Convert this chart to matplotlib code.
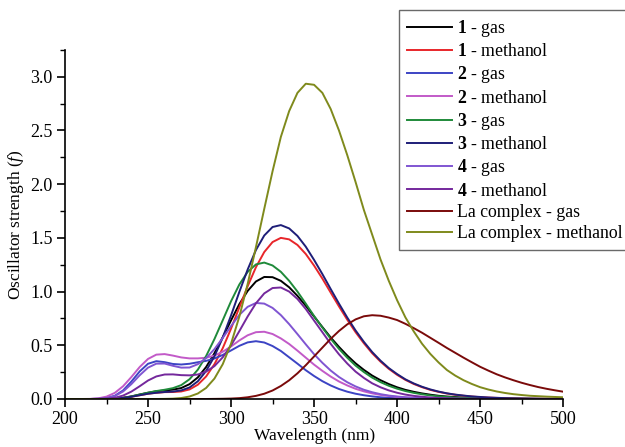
import matplotlib
matplotlib.use("Agg")
import matplotlib.pyplot as plt
from matplotlib.ticker import MultipleLocator

plt.rcParams['font.family'] = ['Liberation Serif', 'DejaVu Serif']
plt.rcParams['mathtext.fontset'] = 'custom'
plt.rcParams['mathtext.rm'] = 'Liberation Serif'
plt.rcParams['mathtext.it'] = 'Liberation Serif:italic'
plt.rcParams['mathtext.bf'] = 'Liberation Serif:bold'

# wavelength grid, 200..500 nm every 5 nm
wavelength = [200, 205, 210, 215, 220, 225, 230, 235, 240, 245,
              250, 255, 260, 265, 270, 275, 280, 285, 290, 295,
              300, 305, 310, 315, 320, 325, 330, 335, 340, 345,
              350, 355, 360, 365, 370, 375, 380, 385, 390, 395,
              400, 405, 410, 415, 420, 425, 430, 435, 440, 445,
              450, 455, 460, 465, 470, 475, 480, 485, 490, 495, 500]

gas_1 = [0, 0, 0, 0, 0, 0.001, 0.004, 0.011, 0.024, 0.042,
         0.058, 0.072, 0.079, 0.087, 0.102, 0.138, 0.201, 0.298, 0.426, 0.575,
         0.732, 0.883, 1.006, 1.094, 1.136, 1.134, 1.10, 1.04, 0.96, 0.868,
         0.768, 0.670, 0.573, 0.485, 0.404, 0.332, 0.271, 0.218, 0.175, 0.139,
         0.109, 0.085, 0.067, 0.052, 0.040, 0.030, 0.023, 0.018, 0.013, 0.010,
         0.008, 0.006, 0.004, 0.003, 0.003, 0.002, 0.001, 0.001, 0, 0, 0]
meoh_1 = [0, 0, 0, 0, 0, 0.001, 0.004, 0.010, 0.021, 0.035,
          0.049, 0.058, 0.064, 0.065, 0.070, 0.089, 0.133, 0.210, 0.324, 0.473,
          0.655, 0.853, 1.049, 1.227, 1.368, 1.461, 1.50, 1.486, 1.434, 1.35,
          1.242, 1.121, 0.991, 0.862, 0.738, 0.622, 0.519, 0.426, 0.348, 0.281,
          0.225, 0.178, 0.14, 0.11, 0.085, 0.066, 0.051, 0.039, 0.03, 0.023,
          0.017, 0.013, 0.01, 0.008, 0.006, 0.004, 0.003, 0.002, 0.002, 0.001, 0.001]
gas_2 = [0, 0, 0, 0, 0.002, 0.008, 0.03, 0.08, 0.163, 0.257,
         0.328, 0.352, 0.343, 0.326, 0.321, 0.328, 0.342, 0.355, 0.377, 0.41,
         0.452, 0.495, 0.527, 0.538, 0.526, 0.493, 0.447, 0.388, 0.329, 0.268,
         0.214, 0.166, 0.126, 0.093, 0.068, 0.049, 0.035, 0.024, 0.016, 0.011,
         0.008, 0.005, 0.003, 0.002, 0.001, 0.001, 0, 0, 0, 0,
         0, 0, 0, 0, 0, 0, 0, 0, 0, 0, 0]
meoh_2 = [0, 0, 0, 0.001, 0.006, 0.022, 0.057, 0.119, 0.205, 0.298,
          0.373, 0.413, 0.418, 0.404, 0.387, 0.378, 0.378, 0.384, 0.404, 0.44,
          0.489, 0.545, 0.593, 0.622, 0.626, 0.605, 0.564, 0.512, 0.45, 0.385,
          0.32, 0.262, 0.209, 0.163, 0.126, 0.095, 0.071, 0.052, 0.038, 0.028,
          0.02, 0.014, 0.01, 0.007, 0.005, 0.003, 0.002, 0.002, 0.001, 0.001,
          0, 0, 0, 0, 0, 0, 0, 0, 0, 0, 0]
gas_3 = [0, 0, 0, 0, 0, 0.001, 0.004, 0.011, 0.024, 0.041,
         0.059, 0.074, 0.086, 0.101, 0.129, 0.184, 0.273, 0.40, 0.558, 0.733,
         0.91, 1.066, 1.183, 1.253, 1.27, 1.243, 1.184, 1.10, 1.0, 0.888,
         0.773, 0.665, 0.561, 0.467, 0.384, 0.311, 0.251, 0.199, 0.157, 0.123,
         0.096, 0.074, 0.057, 0.044, 0.033, 0.025, 0.019, 0.014, 0.011, 0.008,
         0.006, 0.004, 0.003, 0.002, 0.002, 0.001, 0.001, 0, 0, 0, 0]
meoh_3 = [0, 0, 0, 0, 0, 0.001, 0.004, 0.010, 0.021, 0.035,
          0.049, 0.058, 0.065, 0.069, 0.080, 0.107, 0.165, 0.261, 0.397, 0.572,
          0.778, 0.997, 1.205, 1.387, 1.522, 1.601, 1.619, 1.588, 1.518, 1.418,
          1.295, 1.163, 1.024, 0.888, 0.758, 0.638, 0.532, 0.437, 0.357, 0.288,
          0.232, 0.183, 0.145, 0.114, 0.089, 0.069, 0.053, 0.041, 0.032, 0.024,
          0.019, 0.014, 0.011, 0.008, 0.006, 0.005, 0.004, 0.003, 0.002, 0.002, 0.001]
gas_4 = [0, 0, 0, 0, 0.002, 0.008, 0.028, 0.070, 0.139, 0.221,
         0.292, 0.329, 0.33, 0.309, 0.292, 0.293, 0.324, 0.381, 0.464, 0.568,
         0.679, 0.783, 0.858, 0.894, 0.888, 0.848, 0.781, 0.697, 0.604, 0.509,
         0.417, 0.337, 0.265, 0.205, 0.156, 0.117, 0.086, 0.063, 0.045, 0.032,
         0.023, 0.016, 0.011, 0.008, 0.005, 0.004, 0.002, 0.002, 0.001, 0.001,
         0, 0, 0, 0, 0, 0, 0, 0, 0, 0, 0]
meoh_4 = [0, 0, 0, 0, 0.001, 0.003, 0.011, 0.032, 0.069, 0.119,
          0.172, 0.21, 0.228, 0.229, 0.222, 0.22, 0.228, 0.255, 0.306, 0.388,
          0.499, 0.632, 0.768, 0.891, 0.983, 1.033, 1.038, 1.0, 0.931, 0.838,
          0.730, 0.622, 0.514, 0.416, 0.330, 0.255, 0.196, 0.146, 0.109, 0.080,
          0.058, 0.041, 0.029, 0.021, 0.014, 0.010, 0.007, 0.005, 0.003, 0.002,
          0.001, 0.001, 0, 0, 0, 0, 0, 0, 0, 0, 0]
la_gas = [0, 0, 0, 0, 0, 0, 0, 0, 0, 0,
          0, 0, 0, 0, 0, 0, 0, 0, 0.001, 0.002,
          0.004, 0.008, 0.016, 0.029, 0.049, 0.079, 0.121, 0.174, 0.239, 0.314,
          0.396, 0.478, 0.56, 0.633, 0.695, 0.741, 0.77, 0.78, 0.775, 0.758,
          0.735, 0.70, 0.66, 0.617, 0.57, 0.523, 0.475, 0.43, 0.385, 0.342,
          0.30, 0.264, 0.23, 0.201, 0.175, 0.151, 0.13, 0.111, 0.095, 0.081, 0.068]
la_meoh = [0, 0, 0, 0, 0, 0, 0, 0, 0, 0,
           0, 0, 0.001, 0.003, 0.009, 0.023, 0.051, 0.103, 0.19, 0.324,
           0.515, 0.767, 1.07, 1.414, 1.77, 2.12, 2.44, 2.68, 2.85, 2.935,
           2.925, 2.85, 2.70, 2.50, 2.27, 2.02, 1.76, 1.53, 1.30, 1.10,
           0.92, 0.76, 0.63, 0.515, 0.42, 0.34, 0.27, 0.218, 0.175, 0.14,
           0.11, 0.088, 0.07, 0.056, 0.045, 0.037, 0.03, 0.026, 0.022, 0.019, 0.016]

series = [
    (r"$\mathbf{1}$ - gas", gas_1, "#000000"),
    (r"$\mathbf{1}$ - methanol", meoh_1, "#e8262a"),
    (r"$\mathbf{2}$ - gas", gas_2, "#3c44c4"),
    (r"$\mathbf{2}$ - methanol", meoh_2, "#c25ac8"),
    (r"$\mathbf{3}$ - gas", gas_3, "#1f8a3a"),
    (r"$\mathbf{3}$ - methanol", meoh_3, "#1e1e78"),
    (r"$\mathbf{4}$ - gas", gas_4, "#8055d2"),
    (r"$\mathbf{4}$ - methanol", meoh_4, "#74289c"),
    ("La complex - gas", la_gas, "#7a0a0a"),
    ("La complex - methanol", la_meoh, "#7f8a1c"),
]

fig = plt.figure(figsize=(6.25, 4.47), dpi=100)
ax = fig.add_axes([0.104, 0.1074, 0.797, 0.781])

for label, vals, color in series:
    ax.plot(wavelength, vals, color=color, lw=1.4, label=label,
            solid_joinstyle='round')

ax.set_xlim(200, 500)
ax.set_ylim(0, 3.25)
ax.xaxis.set_major_locator(MultipleLocator(50))
ax.xaxis.set_minor_locator(MultipleLocator(25))
ax.yaxis.set_major_locator(MultipleLocator(0.5))
ax.yaxis.set_minor_locator(MultipleLocator(0.25))
ax.yaxis.set_major_formatter(plt.FuncFormatter(lambda v, p: f"{v:.1f}"))
ax.spines['top'].set_visible(False)
ax.spines['right'].set_visible(False)
for s in ('left', 'bottom'):
    ax.spines[s].set_linewidth(1.2)
ax.tick_params(which='major', direction='out', length=6, width=1.2,
               labelsize=13, pad=3)
ax.tick_params(which='minor', direction='out', length=3.5, width=1.0)

ax.set_xlabel("Wavelength (nm)", fontsize=12.5, labelpad=0)
ax.set_ylabel(r"Oscillator strength ($\mathit{f}$)", fontsize=12.5, labelpad=3)

leg = fig.legend(loc='upper left', bbox_to_anchor=(0.638, 0.978),
                 bbox_transform=fig.transFigure, fontsize=12.8,
                 frameon=True, fancybox=False, edgecolor='#444444',
                 handlelength=2.55, handletextpad=0.25, labelspacing=0.24,
                 borderpad=0.45, borderaxespad=0)
leg.get_frame().set_linewidth(1.0)

fig.savefig("out.png", dpi=100)
